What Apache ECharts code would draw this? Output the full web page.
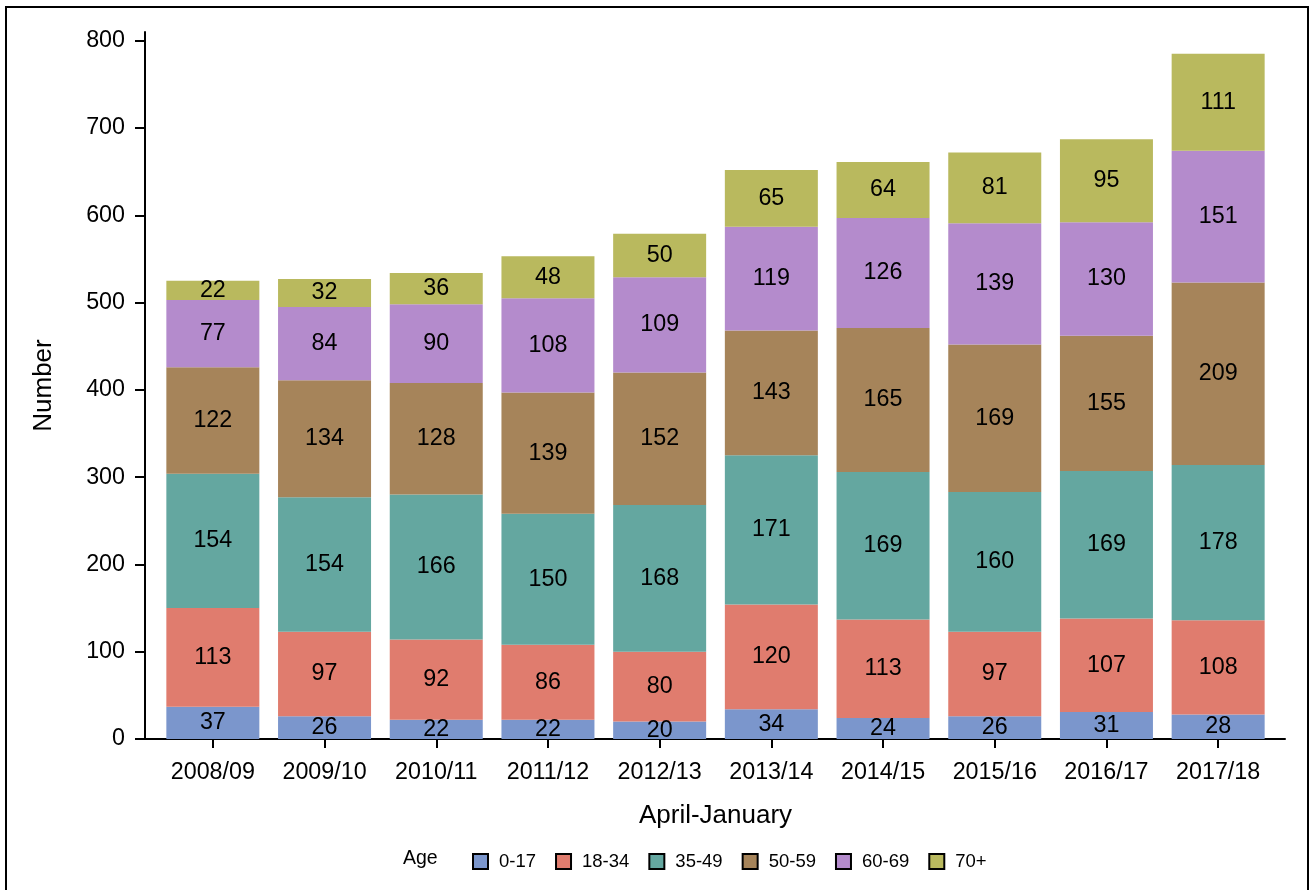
<!DOCTYPE html>
<html>
<head>
<meta charset="utf-8">
<script src="https://cdn.jsdelivr.net/npm/echarts@6/dist/echarts.min.js"></script>
<style>
html,body{margin:0;padding:0;background:#fff;overflow:hidden;}
#chart{position:absolute;left:0;top:0;width:1310px;height:890px;}
#frame{position:absolute;left:5px;top:6px;width:1300px;height:900px;border:2px solid #000;border-bottom:none;pointer-events:none;}
</style>
</head>
<body>
<div id="chart"></div>
<div id="frame"></div>
<script>
const categories = ['2008/09','2009/10','2010/11','2011/12','2012/13','2013/14','2014/15','2015/16','2016/17','2017/18'];
const ageGroups = ['0-17','18-34','35-49','50-59','60-69','70+'];
const age0_17  = [37,26,22,22,20,34,24,26,31,28];
const age18_34 = [113,97,92,86,80,120,113,97,107,108];
const age35_49 = [154,154,166,150,168,171,169,160,169,178];
const age50_59 = [122,134,128,139,152,143,165,169,155,209];
const age60_69 = [77,84,90,108,109,119,126,139,130,151];
const age70p   = [22,32,36,48,50,65,64,81,95,111];
const yTicks = [0,100,200,300,400,500,600,700,800];
const colors = ['#7b96cc','#e07c6e','#64a7a0','#a6845a','#b48bcc','#b9b95e'];

const seriesData = [age0_17, age18_34, age35_49, age50_59, age60_69, age70p];
const FONT = 'Liberation Sans, Arial, sans-serif';

const chart = echarts.init(document.getElementById('chart'));
chart.setOption({
  animation:false,
  color: colors,
  textStyle:{fontFamily:FONT},
  title:{text:'Age', left:403, top:849, textStyle:{fontFamily:FONT, fontSize:19.5, fontWeight:'normal', color:'#000'}, padding:0},
  legend:{
    data: ageGroups, left:472, top:852, itemWidth:15, itemHeight:15, itemGap:19, padding:0,
    icon:'rect',
    itemStyle:{borderColor:'#000', borderWidth:2},
    textStyle:{fontFamily:FONT, fontSize:18.5, color:'#000', padding:[0,0,0,6]}
  },
  grid:[
    {left:157, right:36, top:32, bottom:151, containLabel:false},
    {left:145, right:25, top:32, bottom:151, containLabel:false}
  ],
  xAxis:[{
    type:'category', data:categories, gridIndex:0,
    name:'April-January', nameLocation:'middle', nameGap:64,
    nameTextStyle:{fontFamily:FONT, fontSize:26, color:'#000'},
    axisLine:{show:false},
    axisTick:{show:true, alignWithLabel:true, length:9, lineStyle:{color:'#000', width:2}},
    axisLabel:{fontFamily:FONT, fontSize:23.3, color:'#000', margin:22, interval:0},
    splitLine:{show:false}
  },{
    type:'value', gridIndex:1, min:0, max:1,
    axisLine:{show:true, onZero:false, lineStyle:{color:'#000', width:2}},
    axisTick:{show:false}, axisLabel:{show:false}, splitLine:{show:false}
  }],
  yAxis:[{
    type:'value', gridIndex:0, min:0, max:810, show:false
  },{
    type:'value', gridIndex:1, min:0, max:810,
    name:'Number', nameLocation:'middle', nameGap:88,
    nameTextStyle:{fontFamily:FONT, fontSize:26, color:'#000'},
    axisLine:{show:true, onZero:false, lineStyle:{color:'#000', width:2}},
    axisTick:{show:true, length:10, lineStyle:{color:'#000', width:2}, customValues:yTicks},
    axisLabel:{fontFamily:FONT, fontSize:23.3, color:'#000', margin:20, customValues:yTicks},
    splitLine:{show:false}
  }],
  series: ageGroups.map((g,si)=>({
    name:g, type:'bar', stack:'total', barWidth:93, xAxisIndex:0, yAxisIndex:0,
    data: seriesData[si],
    itemStyle:{color:colors[si]},
    label:{show:true, position:'inside', fontFamily:FONT, fontSize:23.3, color:'#000'}
  }))
});
</script>
</body>
</html>
